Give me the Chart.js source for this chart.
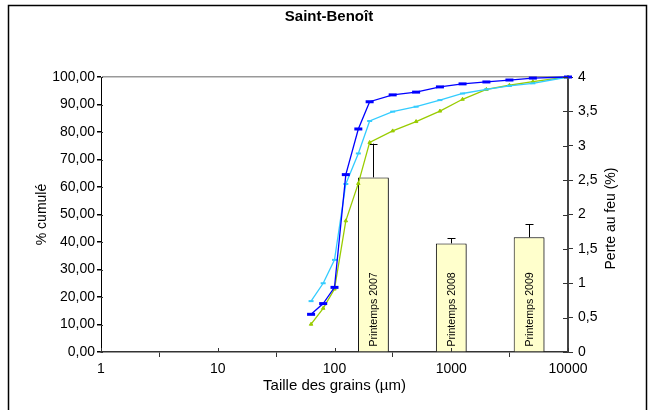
<!DOCTYPE html>
<html>
<head>
<meta charset="utf-8">
<script src="https://cdn.jsdelivr.net/npm/chart.js"></script>
<style>
  html, body { margin: 0; padding: 0; background: #fff; }
  canvas { display: block; }
</style>
</head>
<body>
<canvas id="granulo" width="658" height="410"></canvas>
<script>
// Granulométrie cumulée (µm) et perte au feu
const tailles = [63, 80, 100, 125, 160, 200, 315, 500, 800, 1250, 2000, 3150, 5000, 10000];
const cumul2007 = [13.7, 17.6, 23.5, 64.5, 81.1, 91.0, 93.5, 94.5, 96.4, 97.5, 98.2, 98.9, 99.6, 100];
const cumul2008 = [18.5, 25.0, 33.5, 61.1, 72.2, 84.0, 87.4, 89.2, 91.6, 94.0, 95.5, 96.8, 97.7, 100];
const cumul2009 = [10.1, 15.9, 22.9, 47.7, 61.3, 76.2, 80.4, 83.8, 87.6, 91.9, 95.5, 97.0, 98.3, 100];

const campagnes = ['', '', '', 'Printemps 2007', 'Printemps 2008', 'Printemps 2009'];
const perteFeu = [null, null, null, 2.54, 1.58, 1.67];
const perteErr = [null, null, null, 0.49, 0.075, 0.19];

const xTicks = [1, 10, 100, 1000, 10000];

const POLICE = "'Liberation Sans', Arial, sans-serif";

const points = serie => tailles.map((t, i) => ({ x: t, y: serie[i] }));

// cadre, titre de l'axe secondaire et graduations traversantes
const cadre = {
  id: 'cadre',
  beforeDraw(chart) {
    const ctx = chart.ctx;
    ctx.save();
    ctx.fillStyle = '#fff';
    ctx.fillRect(0, 0, chart.width, chart.height);
    ctx.strokeStyle = '#000';
    ctx.lineWidth = 1.5;
    ctx.strokeRect(8.5, 5.5, 638, 430);
    ctx.restore();
  },
  afterDraw(chart) {
    const ctx = chart.ctx;
    const a = chart.chartArea;
    const s = chart.scales;
    ctx.save();
    ctx.strokeStyle = '#333';
    ctx.lineWidth = 1;
    ctx.beginPath();
    s.y.ticks.forEach(t => {
      const py = Math.round(s.y.getPixelForValue(t.value)) + 0.5;
      ctx.moveTo(a.left, py);
      ctx.lineTo(a.left + 2, py);
    });
    s.y1.ticks.forEach(t => {
      const py = Math.round(s.y1.getPixelForValue(t.value)) + 0.5;
      ctx.moveTo(a.right, py);
      ctx.lineTo(a.right - 5, py);
    });
    s.x.ticks.forEach(t => {
      const px = Math.round(s.x.getPixelForValue(t.value)) + 0.5;
      ctx.moveTo(px, a.bottom);
      ctx.lineTo(px, a.bottom - 4);
    });
    ctx.stroke();

    // titre lu de bas en haut
    ctx.translate(611, (a.top + a.bottom) / 2 + 4);
    ctx.rotate(-Math.PI / 2);
    ctx.fillStyle = '#000';
    ctx.font = '14px ' + POLICE;
    ctx.textAlign = 'center';
    ctx.textBaseline = 'middle';
    ctx.fillText('Perte au feu (%)', 0, 0);
    ctx.restore();
  }
};

// ombre des barres, barres d'erreur et libellés verticaux
const barresInfos = {
  id: 'barresInfos',
  beforeDatasetDraw(chart, args) {
    if (args.meta.type !== 'bar') return;
    const ctx = chart.ctx;
    ctx.save();
    ctx.shadowColor = 'rgba(0,0,0,0.35)';
    ctx.shadowOffsetX = 2;
    ctx.shadowOffsetY = 1;
  },
  afterDatasetDraw(chart, args) {
    if (args.meta.type !== 'bar') return;
    const ctx = chart.ctx;
    ctx.restore();
    const y1 = chart.scales.y1;
    args.meta.data.forEach((el, i) => {
      if (perteFeu[i] == null) return;
      ctx.save();
      ctx.translate(el.x, el.base - 5);
      ctx.rotate(-Math.PI / 2);
      ctx.fillStyle = '#000';
      ctx.font = '10.6px ' + POLICE;
      ctx.textAlign = 'left';
      ctx.textBaseline = 'middle';
      ctx.fillText(campagnes[i], 0, 1);
      ctx.restore();

      const haut = y1.getPixelForValue(perteFeu[i] + perteErr[i]);
      const cx = Math.round(el.x) + 0.5;
      ctx.save();
      ctx.strokeStyle = '#000';
      ctx.lineWidth = 1;
      ctx.beginPath();
      ctx.moveTo(cx, el.y);
      ctx.lineTo(cx, haut);
      ctx.moveTo(cx - 4, Math.round(haut) + 0.5);
      ctx.lineTo(cx + 4, Math.round(haut) + 0.5);
      ctx.stroke();
      ctx.restore();
    });
  }
};

const ligne = (label, data, couleur, style, rayon, epais) => ({
  type: 'line',
  label: label,
  data: points(data),
  xAxisID: 'x',
  yAxisID: 'y',
  borderColor: couleur,
  backgroundColor: couleur,
  borderWidth: 1.3,
  pointStyle: style,
  pointRadius: rayon,
  pointBorderWidth: epais,
  pointBorderColor: couleur,
  pointBackgroundColor: couleur,
  tension: 0,
  clip: false,
  order: 1
});

new Chart(document.getElementById('granulo'), {
  type: 'bar',
  data: {
    datasets: [
      {
        type: 'bar',
        label: 'Perte au feu',
        data: perteFeu,
        xAxisID: 'xb',
        yAxisID: 'y1',
        backgroundColor: '#FFFFCC',
        borderColor: '#000',
        borderWidth: 1,
        grouped: false,
        barPercentage: 0.395,
        categoryPercentage: 1,
        order: 2
      },
      ligne('Printemps 2007', cumul2007, '#0000FF', 'line', 4, 3),
      ligne('Printemps 2008', cumul2008, '#33CCFF', 'line', 2.5, 2),
      ligne('Printemps 2009', cumul2009, '#99CC00', 'triangle', 2, 1)
    ]
  },
  options: {
    responsive: false,
    animation: false,
    layout: { padding: 0 },
    plugins: {
      legend: { display: false },
      tooltip: { enabled: false },
      title: {
        display: true,
        text: 'Saint-Benoît',
        color: '#000',
        font: { family: POLICE, size: 15, weight: 'bold' },
        padding: { top: 8, bottom: 51 }
      }
    },
    scales: {
      x: {
        type: 'logarithmic',
        position: 'bottom',
        min: 1,
        max: 10000,
        afterBuildTicks: s => { s.ticks = xTicks.map(v => ({ value: v })); },
        afterFit: s => { s.height = 58; },
        ticks: {
          color: '#000',
          font: { family: POLICE, size: 14 },
          padding: 4,
          autoSkip: false,
          maxRotation: 0,
          callback: v => String(v)
        },
        grid: { drawOnChartArea: false, tickLength: 5, color: '#333' },
        border: { color: '#333', width: 1.5 },
        title: {
          display: true,
          text: 'Taille des grains (µm)',
          color: '#000',
          font: { family: POLICE, size: 15 },
          padding: { top: 0, bottom: 15 }
        }
      },
      xb: {
        type: 'category',
        labels: campagnes,
        display: false,
        offset: true
      },
      y: {
        position: 'left',
        min: 0,
        max: 100,
        afterFit: s => { s.width = 101; },
        ticks: {
          stepSize: 10,
          color: '#000',
          font: { family: POLICE, size: 14 },
          padding: 2,
          callback: v => v.toFixed(2).replace('.', ',')
        },
        grid: {
          color: c => (c.tick && c.tick.value === 100 ? '#999' : 'rgba(0,0,0,0)'),
          tickColor: '#000',
          tickLength: 4,
          lineWidth: 1.5
        },
        border: { color: '#000', width: 1 },
        title: {
          display: true,
          text: '% cumulé',
          color: '#000',
          font: { family: POLICE, size: 14 },
          padding: { top: 34, bottom: 0 }
        }
      },
      y1: {
        position: 'right',
        min: 0,
        max: 4,
        afterFit: s => { s.width = 90; },
        ticks: {
          stepSize: 0.5,
          color: '#000',
          font: { family: POLICE, size: 14 },
          padding: 5,
          callback: v => String(v).replace('.', ',')
        },
        grid: { drawOnChartArea: false, tickLength: 5, color: '#333' },
        border: { color: '#444', width: 2 }
      }
    }
  },
  plugins: [cadre, barresInfos]
});
</script>
</body>
</html>
